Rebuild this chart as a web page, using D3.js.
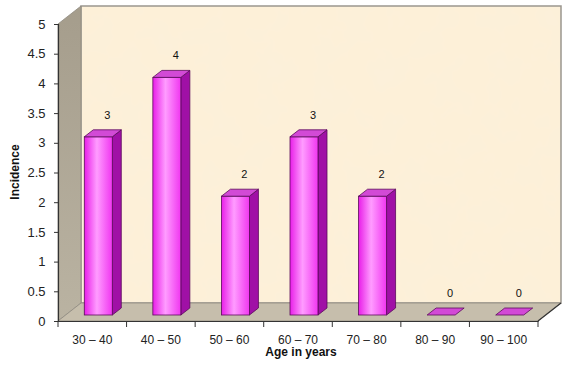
<!DOCTYPE html>
<html><head><meta charset="utf-8">
<script src="https://cdn.jsdelivr.net/npm/d3@7"></script>
<style>html,body{margin:0;padding:0;background:#fff;}svg{display:block;font-family:Arial,"Liberation Sans",sans-serif;}</style>
</head><body><svg id="c" width="568" height="367"></svg>
<script>
const categories = ["30 – 40","40 – 50","50 – 60","60 – 70","70 – 80","80 – 90","90 – 100"];
const incidence = [3,4,2,3,2,0,0];
const yTicks = [0,0.5,1,1.5,2,2.5,3,3.5,4,4.5,5];
const xTitle = "Age in years";
const yTitle = "Incidence";

const svg = d3.select("#c");
const x = d3.scaleBand().domain(categories).range([58,538]);
const y = d3.scaleLinear().domain([0,5]).range([321,24]);
const DX = 23, DY = -18;          // wall depth
const bOX = 6, bOY = -6;          // bar position within depth
const bW = 28, bDX = 9, bDY = -7; // bar width & depth

const defs = svg.append("defs");
const f = defs.append("filter").attr("id","tex").attr("x",0).attr("y",0).attr("width",1).attr("height",1);
f.append("feTurbulence").attr("type","fractalNoise").attr("baseFrequency",0.035).attr("numOctaves",3).attr("seed",4).attr("result","n");
f.append("feColorMatrix").attr("in","n").attr("type","matrix")
 .attr("values","0 0 0 0 0.95  0 0 0 0 0.87  0 0 0 0 0.74  0 0 0 0.3 -0.05").attr("result","c");
f.append("feComposite").attr("in","c").attr("in2","SourceGraphic").attr("operator","atop");
const g1 = defs.append("linearGradient").attr("id","front").attr("x1","0").attr("x2","1").attr("y1","0").attr("y2","0");
g1.append("stop").attr("offset","0%").attr("stop-color","#e81ee8");
g1.append("stop").attr("offset","45%").attr("stop-color","#ff9cff");
g1.append("stop").attr("offset","100%").attr("stop-color","#f036f0");
const g2 = defs.append("linearGradient").attr("id","lwall").attr("x1","0").attr("x2","0").attr("y1","0").attr("y2","1");
g2.append("stop").attr("offset","0%").attr("stop-color","#a59d8c");
g2.append("stop").attr("offset","100%").attr("stop-color","#bab3a2");

const x0 = x.range()[0], x1 = x.range()[1], yb = y(0), yt = y(5);
// back wall
svg.append("rect").attr("x",x0+DX).attr("y",yt+DY).attr("width",x1-x0).attr("height",yb-yt)
  .attr("fill","#fdf0d8").attr("filter","url(#tex)");
svg.append("rect").attr("x",x0+DX).attr("y",yt+DY).attr("width",x1-x0).attr("height",yb-yt)
  .attr("fill","none").attr("stroke","#9a968e").attr("stroke-width",1.5);
// left wall
svg.append("path").attr("d",`M${x0},${yt}L${x0+DX},${yt+DY}L${x0+DX},${yb+DY}L${x0},${yb}Z`)
  .attr("fill","url(#lwall)").attr("stroke","#8f8a80").attr("stroke-width",0.8);
// floor
svg.append("path").attr("d",`M${x0},${yb}L${x0+DX},${yb+DY}L${x1+DX},${yb+DY}L${x1},${yb}Z`)
  .attr("fill","#c6beac").attr("stroke","#8f8a80").attr("stroke-width",0.8);

// bars
const bars = svg.append("g").selectAll("g").data(categories.map((c,i)=>({c,v:incidence[i]}))).join("g");
bars.each(function(d){
  const g = d3.select(this);
  const L = x(d.c) + x.bandwidth()/2 - bW/2 + bOX;
  const R = L + bW;
  const B = y(0) + bOY;
  const T = y(d.v) + bOY;
  const st = "#5a0a5a";
  if (d.v > 0) {
    g.append("path").attr("d",`M${R},${B}L${R+bDX},${B+bDY}L${R+bDX},${T+bDY}L${R},${T}Z`)
      .attr("fill","#a010a6").attr("stroke",st).attr("stroke-width",0.8);
    g.append("rect").attr("x",L).attr("y",T).attr("width",bW).attr("height",B-T)
      .attr("fill","url(#front)").attr("stroke",st).attr("stroke-width",0.8);
  }
  g.append("path").attr("d",`M${L},${T}L${L+bDX},${T+bDY}L${R+bDX},${T+bDY}L${R},${T}Z`)
    .attr("fill","#d24ad6").attr("stroke",st).attr("stroke-width",0.8);
  g.append("text").attr("x",(L+R)/2+9).attr("y",T-18)
    .attr("text-anchor","middle").attr("font-size",11).attr("fill","#111").text(d.v);
});

// axes
const ya = svg.append("g").attr("transform",`translate(${x0},0)`)
  .call(d3.axisLeft(y).tickValues(yTicks).tickSize(4).tickPadding(8.5).tickFormat(d3.format("~g")));
ya.select(".domain").attr("stroke","#333").attr("stroke-width",1.2);
ya.selectAll(".tick line").attr("stroke","#333");
ya.selectAll("text").attr("font-size",13).attr("fill","#222").attr("font-family","Arial,'Liberation Sans',sans-serif");

const xa = svg.append("g").attr("transform",`translate(0,${yb})`)
  .call(d3.axisBottom(x).tickSize(0).tickPadding(14));
xa.select(".domain").attr("stroke","#333").attr("stroke-width",1.2);
xa.selectAll("text").attr("font-size",12).attr("fill","#222").attr("font-family","Arial,'Liberation Sans',sans-serif");
const bounds = categories.map(c=>x(c)).concat([x1]);
svg.append("g").selectAll("line").data(bounds).join("line")
  .attr("x1",d=>d).attr("x2",d=>d).attr("y1",yb).attr("y2",yb+6).attr("stroke","#333");
svg.append("line").attr("x1",x1).attr("y1",yb).attr("x2",x1+DX).attr("y2",yb+DY).attr("stroke","#333").attr("stroke-width",1.2);

svg.append("text").attr("x",(x0+x1)/2+3).attr("y",356).attr("text-anchor","middle")
  .attr("font-size",12).attr("font-weight","bold").attr("fill","#111").text(xTitle);
svg.append("text").attr("transform",`translate(19,${172}) rotate(-90)`).attr("text-anchor","middle")
  .attr("font-size",12).attr("font-weight","bold").attr("fill","#111").text(yTitle);
</script></body></html>
